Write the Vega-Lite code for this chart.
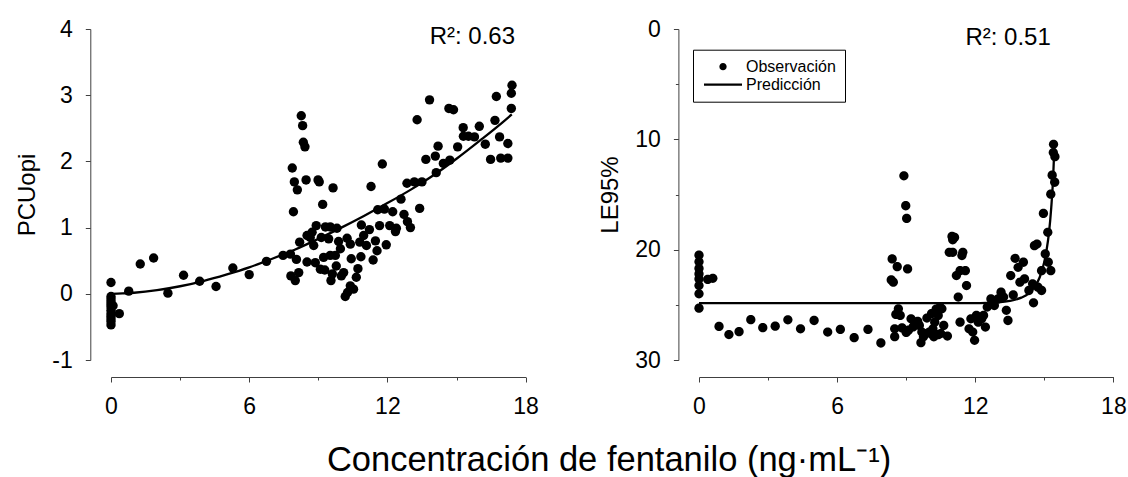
{
  "$schema": "https://vega.github.io/schema/vega-lite/v6.json",
  "background": "white",
  "autosize": {"type": "pad"},
  "padding": {"left": 15, "top": 18, "right": 0, "bottom": 0},
  "config": {
    "font": "Liberation Sans",
    "view": {"stroke": null},
    "axis": {
      "grid": false,
      "domainColor": "#404040",
      "domainWidth": 1,
      "tickColor": "#404040",
      "tickWidth": 1,
      "labelColor": "black",
      "titleColor": "black",
      "labelFont": "Liberation Sans",
      "titleFont": "Liberation Sans",
      "labelFontSize": 23,
      "titleFontSize": 24,
      "titleFontWeight": "normal",
      "labelPadding": 13,
      "titlePadding": 12,
      "labelFlush": false,
      "labelOverlap": false
    }
  },
  "title": {
    "text": "Concentración de fentanilo (ng·mL⁻¹)",
    "orient": "bottom",
    "anchor": "middle",
    "font": "Liberation Sans",
    "fontSize": 34.5,
    "fontWeight": "normal",
    "color": "black",
    "offset": 26,
    "dx": 38
  },
  "spacing": 59,
  "resolve": {"scale": {"shape": "independent"}, "legend": {"shape": "independent"}},
  "datasets": {
    "pcu": [
      {"x": 0, "y": 0.17}, {"x": 0, "y": -0.04}, {"x": 0, "y": -0.08}, {"x": 0, "y": -0.12},
      {"x": 0, "y": -0.16}, {"x": 0, "y": -0.2}, {"x": 0, "y": -0.25}, {"x": 0, "y": -0.3},
      {"x": 0, "y": -0.34}, {"x": 0, "y": -0.38}, {"x": 0, "y": -0.42}, {"x": 0, "y": -0.47},
      {"x": 0.09, "y": -0.18}, {"x": 0.36, "y": -0.3}, {"x": 0.77, "y": 0.04},
      {"x": 1.27, "y": 0.45}, {"x": 1.85, "y": 0.54}, {"x": 2.47, "y": 0.01}, {"x": 3.15, "y": 0.28},
      {"x": 3.85, "y": 0.19}, {"x": 4.56, "y": 0.11}, {"x": 5.29, "y": 0.39}, {"x": 6.0, "y": 0.29},
      {"x": 6.75, "y": 0.49}, {"x": 7.47, "y": 0.58}, {"x": 7.79, "y": 0.6}, {"x": 8.05, "y": 0.52},
      {"x": 7.81, "y": 0.27}, {"x": 8.0, "y": 0.2}, {"x": 8.15, "y": 0.32},
      {"x": 8.19, "y": 0.78}, {"x": 8.51, "y": 0.88}, {"x": 8.65, "y": 0.85}, {"x": 8.73, "y": 0.93},
      {"x": 8.8, "y": 0.73}, {"x": 8.91, "y": 1.03}, {"x": 9.13, "y": 0.85}, {"x": 9.45, "y": 0.83},
      {"x": 9.31, "y": 1.01}, {"x": 9.52, "y": 1.01}, {"x": 9.81, "y": 0.99}, {"x": 9.88, "y": 0.79},
      {"x": 10.25, "y": 0.84}, {"x": 10.39, "y": 0.75}, {"x": 9.96, "y": 0.68},
      {"x": 8.51, "y": 0.48}, {"x": 8.87, "y": 0.47}, {"x": 9.09, "y": 0.37}, {"x": 9.28, "y": 0.36},
      {"x": 9.23, "y": 0.55}, {"x": 9.52, "y": 0.58}, {"x": 9.74, "y": 0.58}, {"x": 9.78, "y": 0.42},
      {"x": 9.61, "y": 0.3}, {"x": 9.55, "y": 0.2}, {"x": 10.0, "y": 0.27}, {"x": 10.1, "y": 0.32},
      {"x": 10.43, "y": 0.53}, {"x": 10.85, "y": 0.56}, {"x": 10.72, "y": 0.38}, {"x": 10.65, "y": 0.25},
      {"x": 11.38, "y": 0.51}, {"x": 11.55, "y": 0.65}, {"x": 11.95, "y": 0.74}, {"x": 11.48, "y": 0.8},
      {"x": 11.09, "y": 0.73}, {"x": 10.8, "y": 0.78}, {"x": 10.97, "y": 0.88}, {"x": 10.87, "y": 1.04},
      {"x": 11.22, "y": 0.97}, {"x": 11.66, "y": 1.03}, {"x": 12.1, "y": 1.03}, {"x": 12.39, "y": 0.99},
      {"x": 12.35, "y": 0.94}, {"x": 12.72, "y": 1.2}, {"x": 12.87, "y": 1.09}, {"x": 13.0, "y": 1.0},
      {"x": 12.23, "y": 1.24}, {"x": 11.58, "y": 1.27}, {"x": 11.87, "y": 1.28}, {"x": 12.59, "y": 1.43},
      {"x": 10.39, "y": 0.12}, {"x": 10.53, "y": 0.07}, {"x": 10.27, "y": 0.02}, {"x": 10.17, "y": -0.04},
      {"x": 7.92, "y": 1.24}, {"x": 7.87, "y": 1.9}, {"x": 7.96, "y": 1.69}, {"x": 8.09, "y": 1.57},
      {"x": 8.47, "y": 1.72}, {"x": 8.99, "y": 1.72}, {"x": 9.04, "y": 1.69}, {"x": 9.64, "y": 1.6},
      {"x": 9.19, "y": 1.35}, {"x": 8.26, "y": 2.69}, {"x": 8.32, "y": 2.54}, {"x": 8.35, "y": 2.29},
      {"x": 8.42, "y": 2.22},
      {"x": 11.29, "y": 1.62}, {"x": 11.78, "y": 1.96}, {"x": 13.29, "y": 2.63}, {"x": 12.85, "y": 1.67},
      {"x": 13.17, "y": 1.69}, {"x": 13.5, "y": 1.69}, {"x": 13.4, "y": 1.29},
      {"x": 13.83, "y": 2.93}, {"x": 14.12, "y": 1.83}, {"x": 13.67, "y": 2.03}, {"x": 14.08, "y": 2.08},
      {"x": 14.2, "y": 2.23}, {"x": 14.43, "y": 1.97}, {"x": 14.71, "y": 2.02}, {"x": 14.67, "y": 2.8},
      {"x": 14.87, "y": 2.78}, {"x": 15.05, "y": 2.22}, {"x": 15.29, "y": 2.51}, {"x": 15.3, "y": 2.38},
      {"x": 15.52, "y": 2.38}, {"x": 15.78, "y": 2.37}, {"x": 15.99, "y": 2.53}, {"x": 16.25, "y": 2.26},
      {"x": 16.48, "y": 2.03}, {"x": 16.67, "y": 2.62}, {"x": 16.73, "y": 2.98}, {"x": 16.87, "y": 2.37},
      {"x": 16.92, "y": 2.05}, {"x": 17.23, "y": 2.05}, {"x": 17.23, "y": 2.27}, {"x": 17.38, "y": 2.8},
      {"x": 17.38, "y": 3.03}, {"x": 17.41, "y": 3.15}
    ],
    "pcuFit": [
      {"x": 0, "y": 0}, {"x": 0.5, "y": 0.005}, {"x": 1, "y": 0.016}, {"x": 2, "y": 0.055},
      {"x": 3, "y": 0.114}, {"x": 4, "y": 0.193}, {"x": 5, "y": 0.29}, {"x": 6, "y": 0.4},
      {"x": 7, "y": 0.53}, {"x": 8, "y": 0.67}, {"x": 9, "y": 0.83}, {"x": 10, "y": 1.0},
      {"x": 11, "y": 1.18}, {"x": 12, "y": 1.37}, {"x": 13, "y": 1.57}, {"x": 14, "y": 1.79},
      {"x": 15, "y": 2.04}, {"x": 16, "y": 2.31}, {"x": 17, "y": 2.59}, {"x": 17.4, "y": 2.71}
    ],
    "le95": [
      {"x": 0, "y": 20.5}, {"x": 0, "y": 21.1}, {"x": 0, "y": 21.7}, {"x": 0, "y": 22.2},
      {"x": 0, "y": 22.65}, {"x": 0, "y": 23.25}, {"x": 0, "y": 24.0}, {"x": 0, "y": 25.3},
      {"x": 0.38, "y": 22.7}, {"x": 0.6, "y": 22.6},
      {"x": 0.87, "y": 26.96}, {"x": 1.3, "y": 27.7}, {"x": 1.74, "y": 27.43}, {"x": 2.25, "y": 26.35},
      {"x": 2.77, "y": 27.07}, {"x": 3.31, "y": 26.93}, {"x": 3.86, "y": 26.36}, {"x": 4.41, "y": 27.17},
      {"x": 5.0, "y": 26.42}, {"x": 5.59, "y": 27.47}, {"x": 6.14, "y": 27.23}, {"x": 6.74, "y": 27.98},
      {"x": 7.34, "y": 27.23}, {"x": 7.9, "y": 28.46}, {"x": 8.5, "y": 27.89},
      {"x": 8.39, "y": 20.84}, {"x": 8.61, "y": 21.54}, {"x": 9.06, "y": 21.75}, {"x": 8.35, "y": 22.74},
      {"x": 8.44, "y": 22.95}, {"x": 8.66, "y": 25.36}, {"x": 8.55, "y": 25.87}, {"x": 8.74, "y": 25.96},
      {"x": 8.5, "y": 27.17}, {"x": 8.82, "y": 27.1}, {"x": 9.1, "y": 27.3}, {"x": 9.21, "y": 26.27},
      {"x": 9.37, "y": 26.57}, {"x": 9.57, "y": 26.87}, {"x": 9.68, "y": 27.47}, {"x": 9.84, "y": 27.62},
      {"x": 10.0, "y": 27.47}, {"x": 10.16, "y": 27.17}, {"x": 10.24, "y": 26.57}, {"x": 10.39, "y": 25.96},
      {"x": 10.47, "y": 25.2}, {"x": 10.55, "y": 25.36}, {"x": 9.64, "y": 28.43}, {"x": 10.08, "y": 27.62},
      {"x": 10.39, "y": 27.71}, {"x": 10.79, "y": 27.83}, {"x": 10.63, "y": 26.87},
      {"x": 9.0, "y": 27.5}, {"x": 9.3, "y": 27.0}, {"x": 9.5, "y": 26.5}, {"x": 9.9, "y": 26.2},
      {"x": 10.1, "y": 25.8}, {"x": 10.3, "y": 25.4}, {"x": 9.75, "y": 27.9}, {"x": 10.2, "y": 27.9},
      {"x": 10.5, "y": 27.6},
      {"x": 10.87, "y": 20.24}, {"x": 11.02, "y": 20.24}, {"x": 11.02, "y": 19.1}, {"x": 11.1, "y": 18.89},
      {"x": 10.99, "y": 18.8}, {"x": 11.46, "y": 20.24}, {"x": 11.42, "y": 20.54}, {"x": 11.18, "y": 22.35},
      {"x": 11.34, "y": 21.9}, {"x": 11.57, "y": 21.9}, {"x": 11.62, "y": 23.25}, {"x": 11.26, "y": 24.3},
      {"x": 11.34, "y": 26.57}, {"x": 11.81, "y": 26.27}, {"x": 11.73, "y": 27.17}, {"x": 11.89, "y": 27.47},
      {"x": 11.97, "y": 28.22}, {"x": 12.05, "y": 25.96}, {"x": 12.13, "y": 26.57}, {"x": 12.28, "y": 26.27},
      {"x": 12.36, "y": 25.96}, {"x": 12.44, "y": 27.02}, {"x": 12.52, "y": 25.2}, {"x": 12.68, "y": 24.46},
      {"x": 12.83, "y": 25.06}, {"x": 12.99, "y": 24.46}, {"x": 13.12, "y": 23.86}, {"x": 13.23, "y": 24.3},
      {"x": 13.35, "y": 25.5}, {"x": 13.42, "y": 26.42}, {"x": 13.54, "y": 22.35}, {"x": 13.65, "y": 24.1},
      {"x": 13.73, "y": 20.78}, {"x": 13.86, "y": 21.6}, {"x": 14.09, "y": 21.14}, {"x": 13.94, "y": 22.95},
      {"x": 14.14, "y": 22.65}, {"x": 14.33, "y": 23.7}, {"x": 14.49, "y": 23.1}, {"x": 14.53, "y": 24.82},
      {"x": 14.57, "y": 19.64}, {"x": 14.68, "y": 19.49}, {"x": 14.72, "y": 23.4}, {"x": 14.88, "y": 23.7},
      {"x": 15.04, "y": 20.39}, {"x": 15.17, "y": 21.14}, {"x": 14.88, "y": 21.9}, {"x": 15.28, "y": 21.9},
      {"x": 8.9, "y": 13.31}, {"x": 8.98, "y": 16.02}, {"x": 9.02, "y": 17.17},
      {"x": 15.4, "y": 10.45}, {"x": 15.39, "y": 11.2}, {"x": 15.46, "y": 11.57}, {"x": 15.34, "y": 13.25},
      {"x": 15.45, "y": 13.89}, {"x": 15.28, "y": 14.97}, {"x": 14.96, "y": 16.72}, {"x": 15.15, "y": 18.43}
    ],
    "leFit": [
      {"x": 0, "y": 24.85}, {"x": 6, "y": 24.85}, {"x": 12, "y": 24.84}, {"x": 12.5, "y": 24.82},
      {"x": 13, "y": 24.78}, {"x": 13.5, "y": 24.65}, {"x": 14, "y": 24.35}, {"x": 14.3, "y": 24.0},
      {"x": 14.6, "y": 23.3}, {"x": 14.8, "y": 22.5}, {"x": 15.0, "y": 21.1}, {"x": 15.1, "y": 20.0},
      {"x": 15.2, "y": 18.5}, {"x": 15.3, "y": 16.2}, {"x": 15.38, "y": 13.6}, {"x": 15.44, "y": 10.5}
    ]
  },
  "hconcat": [
    {
      "width": 414.6,
      "height": 331,
      "layer": [
        {
          "data": {"name": "pcu"},
          "mark": {"type": "circle", "size": 88, "color": "black", "opacity": 1},
          "encoding": {
            "x": {
              "field": "x", "type": "quantitative",
              "scale": {"domain": [0, 18], "nice": false, "zero": false},
              "axis": {
                "title": null, "offset": 17,
                "values": [0, 3, 6, 9, 12, 15, 18],
                "labelExpr": "datum.value % 6 === 0 ? '' + datum.value : ''",
                "tickSize": {"condition": {"test": "datum.value % 6 === 0", "value": 5}, "value": 3}
              }
            },
            "y": {
              "field": "y", "type": "quantitative",
              "scale": {"domain": [-1, 4], "nice": false, "zero": false},
              "axis": {
                "title": "PCUopi", "offset": 20.7,
                "values": [-1, 0, 1, 2, 3, 4],
                "labelExpr": "'' + datum.value",
                "tickSize": 5
              }
            }
          }
        },
        {
          "data": {"name": "pcuFit"},
          "mark": {"type": "line", "color": "black", "strokeWidth": 2.3, "interpolate": "monotone"},
          "encoding": {
            "x": {"field": "x", "type": "quantitative"},
            "y": {"field": "y", "type": "quantitative"}
          }
        },
        {
          "data": {"values": [{"r2": "R²: 0.63"}]},
          "mark": {"type": "text", "align": "right", "baseline": "alphabetic", "fontSize": 24, "font": "Liberation Sans", "color": "black"},
          "encoding": {
            "text": {"field": "r2"},
            "x": {"datum": 17.54, "type": "quantitative"},
            "y": {"datum": 3.77, "type": "quantitative"}
          }
        }
      ]
    },
    {
      "width": 414.4,
      "height": 331,
      "layer": [
        {
          "data": {"name": "le95"},
          "mark": {"type": "point", "filled": true, "size": 104, "color": "black", "opacity": 1, "strokeWidth": 0},
          "encoding": {
            "x": {
              "field": "x", "type": "quantitative",
              "scale": {"domain": [0, 18], "nice": false, "zero": false},
              "axis": {
                "title": null, "offset": 17,
                "values": [0, 3, 6, 9, 12, 15, 18],
                "labelExpr": "datum.value % 6 === 0 ? '' + datum.value : ''",
                "tickSize": {"condition": {"test": "datum.value % 6 === 0", "value": 5}, "value": 3}
              }
            },
            "y": {
              "field": "y", "type": "quantitative",
              "scale": {"domain": [0, 30], "nice": false, "zero": false, "reverse": true},
              "axis": {
                "title": "LE95%", "offset": 20.6,
                "values": [0, 5, 10, 15, 20, 25, 30],
                "labelExpr": "datum.value % 10 === 0 ? '' + datum.value : ''",
                "tickSize": {"condition": {"test": "datum.value % 10 === 0", "value": 5}, "value": 3}
              }
            },
            "shape": {
              "datum": "Observación", "type": "nominal",
              "scale": {
                "domain": ["Observación", "Predicción"],
                "range": [
                  "M0,-0.91A0.91,0.91,0,1,1,0,0.91A0.91,0.91,0,1,1,0,-0.91Z",
                  "M-4.75,-0.29L4.75,-0.29L4.75,0.29L-4.75,0.29Z"
                ]
              },
              "legend": {
                "title": null,
                "orient": "none",
                "legendX": -6,
                "legendY": 20.7,
                "strokeColor": "black",
                "fillColor": "white",
                "padding": 9,
                "symbolSize": 64,
                "symbolOffset": 13,
                "labelOffset": 15,
                "labelFont": "Liberation Sans",
                "labelFontSize": 16,
                "labelColor": "black",
                "rowPadding": 2,
                "symbolFillColor": "black",
                "symbolStrokeColor": "transparent",
                "symbolStrokeWidth": 0,
                "symbolOpacity": 1,
                "encode": {
                  "symbols": {
                    "update": {
                      "fill": {"value": "black"},
                      "strokeWidth": {"value": 0},
                      "opacity": {"value": 1}
                    }
                  }
                }
              }
            }
          }
        },
        {
          "data": {"name": "leFit"},
          "mark": {"type": "line", "color": "black", "strokeWidth": 2.3, "interpolate": "monotone"},
          "encoding": {
            "x": {"field": "x", "type": "quantitative"},
            "y": {"field": "y", "type": "quantitative"}
          }
        },
        {
          "data": {"values": [{"r2": "R²: 0.51"}]},
          "mark": {"type": "text", "align": "right", "baseline": "alphabetic", "fontSize": 24, "font": "Liberation Sans", "color": "black"},
          "encoding": {
            "text": {"field": "r2"},
            "x": {"datum": 15.28, "type": "quantitative"},
            "y": {"datum": 1.42, "type": "quantitative"}
          }
        }
      ]
    }
  ]
}
